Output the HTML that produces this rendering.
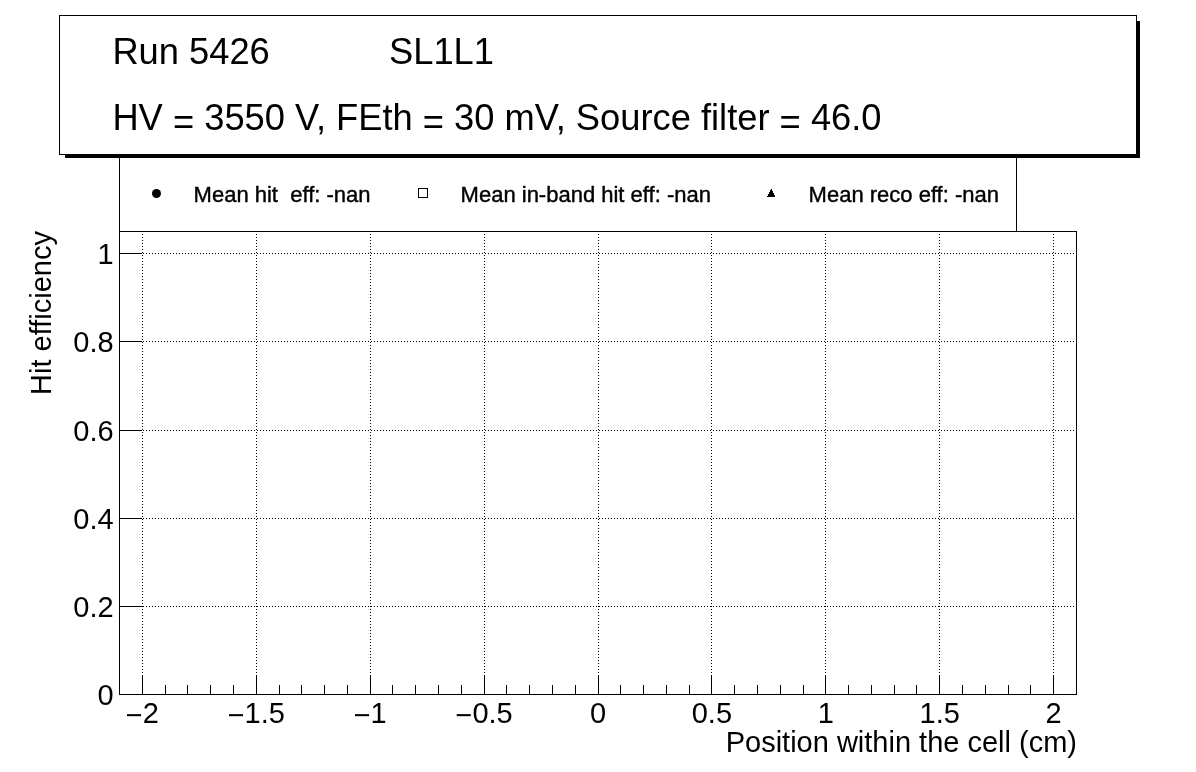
<!DOCTYPE html>
<html lang="en">
<head>
<meta charset="utf-8">
<title>Run 5426 SL1L1 hit efficiency</title>
<style>
html,body{margin:0;padding:0;background:#fff;}
body{width:1196px;height:772px;overflow:hidden;}
svg{display:block;position:absolute;left:0;top:0;}
text{font-family:"Liberation Sans",sans-serif;fill:#000;}
.c{shape-rendering:crispEdges;}
.lg{stroke:#000;stroke-width:0.4px;}
</style>
</head>
<body>
<svg width="1196" height="772" viewBox="0 0 1196 772">
<rect x="0" y="0" width="1196" height="772" fill="#fff"/>
<g class="c" stroke="#000" stroke-width="1" stroke-dasharray="1 2" fill="none">
<line x1="142.5" y1="234" x2="142.5" y2="694"/>
<line x1="256.5" y1="234" x2="256.5" y2="694"/>
<line x1="370.5" y1="234" x2="370.5" y2="694"/>
<line x1="484.5" y1="234" x2="484.5" y2="694"/>
<line x1="598.5" y1="234" x2="598.5" y2="694"/>
<line x1="711.5" y1="234" x2="711.5" y2="694"/>
<line x1="825.5" y1="234" x2="825.5" y2="694"/>
<line x1="939.5" y1="234" x2="939.5" y2="694"/>
<line x1="1053.5" y1="234" x2="1053.5" y2="694"/>
<line x1="143" y1="253.5" x2="1076" y2="253.5"/>
<line x1="143" y1="341.5" x2="1076" y2="341.5"/>
<line x1="143" y1="430.5" x2="1076" y2="430.5"/>
<line x1="143" y1="518.5" x2="1076" y2="518.5"/>
<line x1="143" y1="606.5" x2="1076" y2="606.5"/>
</g>
<g class="c" stroke="#000" stroke-width="1" fill="none">
<rect x="119.5" y="150.5" width="897" height="81"/>
<rect x="119.5" y="231.5" width="957" height="463"/>
<line x1="142.5" y1="675" x2="142.5" y2="694"/>
<line x1="256.5" y1="675" x2="256.5" y2="694"/>
<line x1="370.5" y1="675" x2="370.5" y2="694"/>
<line x1="484.5" y1="675" x2="484.5" y2="694"/>
<line x1="598.5" y1="675" x2="598.5" y2="694"/>
<line x1="711.5" y1="675" x2="711.5" y2="694"/>
<line x1="825.5" y1="675" x2="825.5" y2="694"/>
<line x1="939.5" y1="675" x2="939.5" y2="694"/>
<line x1="1053.5" y1="675" x2="1053.5" y2="694"/>
<line x1="165.5" y1="685" x2="165.5" y2="694"/>
<line x1="187.5" y1="685" x2="187.5" y2="694"/>
<line x1="210.5" y1="685" x2="210.5" y2="694"/>
<line x1="233.5" y1="685" x2="233.5" y2="694"/>
<line x1="279.5" y1="685" x2="279.5" y2="694"/>
<line x1="301.5" y1="685" x2="301.5" y2="694"/>
<line x1="324.5" y1="685" x2="324.5" y2="694"/>
<line x1="347.5" y1="685" x2="347.5" y2="694"/>
<line x1="392.5" y1="685" x2="392.5" y2="694"/>
<line x1="415.5" y1="685" x2="415.5" y2="694"/>
<line x1="438.5" y1="685" x2="438.5" y2="694"/>
<line x1="461.5" y1="685" x2="461.5" y2="694"/>
<line x1="506.5" y1="685" x2="506.5" y2="694"/>
<line x1="529.5" y1="685" x2="529.5" y2="694"/>
<line x1="552.5" y1="685" x2="552.5" y2="694"/>
<line x1="575.5" y1="685" x2="575.5" y2="694"/>
<line x1="620.5" y1="685" x2="620.5" y2="694"/>
<line x1="643.5" y1="685" x2="643.5" y2="694"/>
<line x1="666.5" y1="685" x2="666.5" y2="694"/>
<line x1="689.5" y1="685" x2="689.5" y2="694"/>
<line x1="734.5" y1="685" x2="734.5" y2="694"/>
<line x1="757.5" y1="685" x2="757.5" y2="694"/>
<line x1="780.5" y1="685" x2="780.5" y2="694"/>
<line x1="803.5" y1="685" x2="803.5" y2="694"/>
<line x1="848.5" y1="685" x2="848.5" y2="694"/>
<line x1="871.5" y1="685" x2="871.5" y2="694"/>
<line x1="894.5" y1="685" x2="894.5" y2="694"/>
<line x1="916.5" y1="685" x2="916.5" y2="694"/>
<line x1="962.5" y1="685" x2="962.5" y2="694"/>
<line x1="985.5" y1="685" x2="985.5" y2="694"/>
<line x1="1008.5" y1="685" x2="1008.5" y2="694"/>
<line x1="1030.5" y1="685" x2="1030.5" y2="694"/>
<line x1="119" y1="253.5" x2="142" y2="253.5"/>
<line x1="119" y1="341.5" x2="142" y2="341.5"/>
<line x1="119" y1="430.5" x2="142" y2="430.5"/>
<line x1="119" y1="518.5" x2="142" y2="518.5"/>
<line x1="119" y1="606.5" x2="142" y2="606.5"/>
</g>
<g class="c">
<rect x="65" y="21" width="1075" height="137" fill="#000"/>
<rect x="59.5" y="15.5" width="1077" height="139" fill="#fff" stroke="#000" stroke-width="1"/>
</g>
<text x="112.4" y="63.7" font-size="36.3" id="t1">Run 5426</text>
<text x="389.0" y="63.7" font-size="36.3" id="t2">SL1L1</text>
<text x="112.4" y="129.9" font-size="36.3" id="t3">HV <tspan dy="3.6">=</tspan><tspan dy="-3.6"> 3550 V, FEth </tspan><tspan dy="3.6">=</tspan><tspan dy="-3.6"> 30 mV, Source filter </tspan><tspan dy="3.6">=</tspan><tspan dy="-3.6"> 46.0</tspan></text>
<circle cx="156.5" cy="193.5" r="4.5" fill="#000"/>
<rect class="c" x="418.5" y="188.5" width="9" height="9" fill="#fff" stroke="#000" stroke-width="1"/>
<path class="c" d="M771 189h1v1h-1zM770 190h2v1h-2zM770 191h3v1h-3zM769 192h4v1h-4zM769 193h5v1h-5zM768 194h6v1h-6zM768 195h7v1h-7zM767 196h8v1h-8z" fill="#000"/>
<text x="193.6" y="201.9" font-size="22.0" id="l1" class="lg" xml:space="preserve" style="white-space:pre">Mean hit  eff: -nan</text>
<text x="460.6" y="201.9" font-size="22.0" id="l2" class="lg">Mean in-band hit eff: -nan</text>
<text x="808.6" y="201.9" font-size="22.0" id="l3" class="lg">Mean reco eff: -nan</text>
<text x="142.38" y="723.0" font-size="29.0" text-anchor="middle" id="x0"><tspan dy="2">−</tspan><tspan dy="-2">2</tspan></text>
<text x="256.29" y="723.0" font-size="29.0" text-anchor="middle" id="x1"><tspan dy="2">−</tspan><tspan dy="-2">1.5</tspan></text>
<text x="370.19" y="723.0" font-size="29.0" text-anchor="middle" id="x2"><tspan dy="2">−</tspan><tspan dy="-2">1</tspan></text>
<text x="484.10" y="723.0" font-size="29.0" text-anchor="middle" id="x3"><tspan dy="2">−</tspan><tspan dy="-2">0.5</tspan></text>
<text x="598.00" y="723.0" font-size="29.0" text-anchor="middle" id="x4">0</text>
<text x="711.90" y="723.0" font-size="29.0" text-anchor="middle" id="x5">0.5</text>
<text x="825.81" y="723.0" font-size="29.0" text-anchor="middle" id="x6">1</text>
<text x="939.71" y="723.0" font-size="29.0" text-anchor="middle" id="x7">1.5</text>
<text x="1053.62" y="723.0" font-size="29.0" text-anchor="middle" id="x8">2</text>
<text x="113.7" y="263.80" font-size="29.0" text-anchor="end" id="y0">1</text>
<text x="113.7" y="351.80" font-size="29.0" text-anchor="end" id="y1">0.8</text>
<text x="113.7" y="440.80" font-size="29.0" text-anchor="end" id="y2">0.6</text>
<text x="113.7" y="528.80" font-size="29.0" text-anchor="end" id="y3">0.4</text>
<text x="113.7" y="616.80" font-size="29.0" text-anchor="end" id="y4">0.2</text>
<text x="113.7" y="704.80" font-size="29.0" text-anchor="end" id="y5">0</text>
<text x="1077.0" y="752.0" font-size="29.0" text-anchor="end" id="xt">Position within the cell (cm)</text>
<text transform="translate(51.3 231.0) rotate(-90)" x="0" y="0" font-size="29.0" text-anchor="end" id="yt">Hit efficiency</text>
</svg>
</body>
</html>
